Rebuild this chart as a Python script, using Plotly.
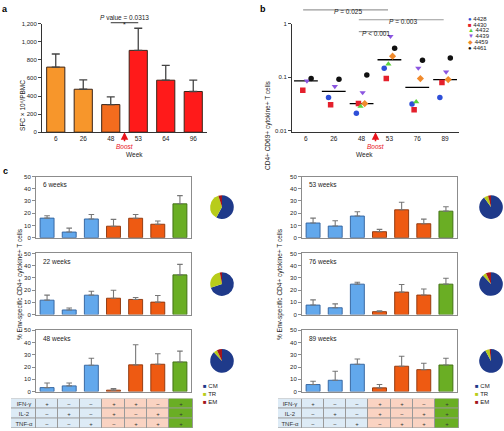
import plotly.graph_objects as go
import numpy as np

W, H = 504, 431
def fx(p): return p / W
def fy(p): return 1 - p / H

FONT = "Liberation Sans, Arial, sans-serif"

# ---------------- Panel a data ----------------
a_weeks = ["6", "26", "48", "53", "64", "96"]
a_sfc = [720, 475, 305, 905, 575, 450]
a_err = [145, 103, 85, 245, 165, 125]
a_colors = ["#F7962B", "#F7962B", "#F36C1E", "#FF1A1A", "#FF1A1A", "#FF1A1A"]

# ---------------- Panel b data ----------------
b_weeks = ["6", "26", "48", "53", "76", "89"]
subjects = ["4428", "4430", "4432", "4439", "4459", "4461"]
s_4428 = [None, 0.0416, 0.021, 0.146, 0.0313, 0.0416]
s_4430 = [0.057, 0.0304, 0.032, 0.094, 0.0245, 0.079]
s_4432 = [None, None, 0.0283, 0.176, 0.0346, None]
s_4439 = [0.085, 0.067, 0.0515, 0.58, 0.148, 0.125]
s_4459 = [None, None, 0.032, 0.247, 0.094, 0.090]
s_4461 = [0.094, 0.091, 0.11, 0.348, 0.208, 0.227]
subject_values = [s_4428, s_4430, s_4432, s_4439, s_4459, s_4461]
subject_colors = ["#2E4FD8", "#E4202C", "#5BD23A", "#8B55E0", "#F08A2C", "#111111"]
subject_symbols = ["circle", "square", "triangle-up", "triangle-down", "diamond", "circle"]
subject_glyphs = ["●", "■", "▲", "▼", "◆", "●"]

# ---------------- Panel c data ----------------
c_categories = ["IFN-γ+", "IL-2+", "TNF-α+", "IFN-γ+IL-2+", "IFN-γ+TNF-α+",
                "IL-2+TNF-α+", "IFN-γ+IL-2+TNF-α+"]
c_bar_colors = ["#62A8EC"] * 3 + ["#EE5A12"] * 3 + ["#6AAE24"]
c_bar_lines = ["#2F5F9A"] * 3 + ["#8A3208"] * 3 + ["#3B6A10"]
c_timepoints = ["6 weeks", "22 weeks", "48 weeks", "53 weeks", "76 weeks", "89 weeks"]
c_6w = [16, 4.6, 15.3, 9.4, 15.9, 11, 27.7]
c_6w_err = [2, 3.2, 3.7, 5.6, 3.1, 2.7, 6.7]
c_22w = [11.8, 3.8, 15.9, 13.4, 12.4, 10.2, 32.5]
c_22w_err = [4.1, 1.6, 3.2, 6.5, 1.6, 5.4, 8.6]
c_48w = [3.2, 4.6, 21.5, 1.1, 21.8, 22.3, 24.2]
c_48w_err = [3.8, 2.4, 5.7, 1.3, 16.4, 8.6, 8.8]
c_53w = [12, 9.5, 17.7, 4.9, 22.8, 11.4, 21.7]
c_53w_err = [4, 4.4, 3.5, 1.9, 6.2, 3.8, 3.6]
c_76w = [7.8, 5.6, 24.9, 2.4, 18.4, 16, 24.9]
c_76w_err = [4.2, 3.2, 1.6, 0.8, 6.2, 4.9, 4.8]
c_89w = [5.7, 9.2, 22.3, 3, 20.7, 17.9, 21.7]
c_89w_err = [2.7, 7.4, 4.3, 2.7, 8.1, 5.2, 5.5]
c_values = [c_6w, c_22w, c_48w, c_53w, c_76w, c_89w]
c_errors = [c_6w_err, c_22w_err, c_48w_err, c_53w_err, c_76w_err, c_89w_err]

pie_labels = ["CM", "TR", "EM"]
pie_colors = ["#1F3A8A", "#B8CC1A", "#A3151B"]
pie_6w = [58, 37, 5]
pie_22w = [70, 27, 3]
pie_48w = [88, 5, 7]
pie_53w = [90, 6, 4]
pie_76w = [88, 5, 7]
pie_89w = [92, 6, 2]
pie_values = [pie_6w, pie_22w, pie_48w, pie_53w, pie_76w, pie_89w]

table_rows = ["IFN-γ", "IL-2", "TNF-α"]
table_ifn = ["+", "−", "−", "+", "+", "−", "+"]
table_il2 = ["−", "+", "−", "+", "−", "+", "+"]
table_tnf = ["−", "−", "+", "−", "+", "+", "+"]
table_signs = [table_ifn, table_il2, table_tnf]
table_group = [0, 0, 0, 1, 1, 1, 2]

fig = go.Figure()

# ---------------- Panel a ----------------
fig.add_trace(go.Bar(
    x=a_weeks, y=a_sfc, width=0.66,
    marker=dict(color=a_colors, line=dict(color="#3a2418", width=1)),
    error_y=dict(type="data", array=a_err, arrayminus=[0] * len(a_err), symmetric=False,
                 color="#444", thickness=1.3, width=4),
    xaxis="x", yaxis="y", showlegend=False, hoverinfo="skip"))

# ---------------- Panel b ----------------
medians = [float(np.median([v[i] for v in subject_values if v[i] is not None]))
           for i in range(len(b_weeks))]
fig.add_trace(go.Scatter(
    x=b_weeks, y=medians, mode="markers",
    marker=dict(symbol="line-ew", size=17, color="black", line=dict(color="black", width=1.3)),
    xaxis="x2", yaxis="y2", showlegend=False, hoverinfo="skip",
    alignmentgroup="med", offsetgroup="med"))
for name, vals, col, sym in zip(subjects, subject_values, subject_colors, subject_symbols):
    fig.add_trace(go.Scatter(
        x=b_weeks, y=vals, mode="markers", name=name,
        marker=dict(symbol=sym, size=5.5, color=col, line=dict(width=0)),
        xaxis="x2", yaxis="y2", showlegend=False, hoverinfo="skip",
        alignmentgroup="subj", offsetgroup=name))

# ---------------- Panel c ----------------
box_x = [(36, 191), (302, 457)]
box_y = [(176, 238), (254, 316), (332, 394)]
pie_cx = [222, 491]
table_x = [(11, 193), (278, 459)]
table_y = (401, 431)

for k, (tp, vals, errs, pv) in enumerate(zip(c_timepoints, c_values, c_errors, pie_values)):
    col, row = k // 3, k % 3
    n = 3 + k
    xa, ya = f"x{n}", f"y{n}"
    fig.add_trace(go.Bar(
        x=c_categories, y=vals, width=0.63,
        marker=dict(color=c_bar_colors, line=dict(color=c_bar_lines, width=0.9)),
        error_y=dict(type="data", array=errs, arrayminus=[0] * len(errs), symmetric=False,
                     color="#777", thickness=1.1, width=2.8),
        xaxis=xa, yaxis=ya, showlegend=False, hoverinfo="skip"))
    x0, x1 = box_x[col]
    y0, y1 = box_y[row]
    fig.layout[f"xaxis{n}"] = dict(
        domain=[fx(x0), fx(x1)], anchor=ya, type="category", range=[-0.5, 6.5],
        showline=True, mirror=True, linecolor="#8c8c8c", linewidth=1,
        showticklabels=False, ticks="", showgrid=False, zeroline=False, fixedrange=True)
    fig.layout[f"yaxis{n}"] = dict(
        domain=[fy(y1), fy(y0)], anchor=xa, range=[0, 50], dtick=10,
        showline=True, mirror=True, linecolor="#8c8c8c", linewidth=1,
        ticks="outside", ticklen=3, tickcolor="#8c8c8c", tickfont=dict(size=6),
        showgrid=False, zeroline=False, fixedrange=True)
    fig.add_annotation(x=fx(x0 + 5), y=fy(y0 + 8), xref="paper", yref="paper",
                       text=tp, showarrow=False, xanchor="left", yanchor="middle",
                       font=dict(size=6.5))
    cy = (y0 + y1) / 2
    r = 12
    fig.add_trace(go.Pie(
        values=pv, labels=pie_labels, sort=False, direction="clockwise", rotation=0,
        marker=dict(colors=pie_colors, line=dict(width=0)), textinfo="none",
        hoverinfo="skip", showlegend=False,
        domain=dict(x=[fx(pie_cx[col] - r), fx(min(pie_cx[col] + r, W))],
                    y=[fy(cy + r), fy(cy - r)])))

# tables
for t in range(2):
    n = 9 + t
    xa, ya = f"x{n}", f"y{n}"
    bx0, bx1 = box_x[t]
    tx0, tx1 = table_x[t]
    scale = (bx1 - bx0) / len(c_categories)
    left = -0.5 - (bx0 - tx0) / scale
    right = len(c_categories) - 0.5 + (tx1 - bx1) / scale
    edges = [left] + [i - 0.5 for i in range(len(c_categories))] + [right]
    z = [[0] + table_group for _ in table_rows]
    text = [[lab] + signs for lab, signs in zip(table_rows, table_signs)]
    fig.add_trace(go.Heatmap(
        x=edges, y=list(range(len(table_rows))), z=z, text=text,
        texttemplate="%{text}", textfont=dict(size=6, color="#333"),
        colorscale=[[0, "#DDEBF6"], [0.5, "#FAD3C2"], [1, "#6AAE24"]],
        zmin=0, zmax=2, showscale=False, xgap=1, ygap=1, hoverinfo="skip",
        xaxis=xa, yaxis=ya))
    fig.layout[f"xaxis{n}"] = dict(domain=[fx(tx0), fx(tx1)], anchor=ya, range=[left, right],
                                   visible=False, fixedrange=True)
    fig.layout[f"yaxis{n}"] = dict(domain=[fy(table_y[1]), fy(table_y[0])], anchor=xa,
                                   range=[len(table_rows) - 0.5, -0.5], visible=False,
                                   fixedrange=True)
    fig.add_shape(type="rect", xref="paper", yref="paper", x0=fx(tx0), x1=fx(tx1),
                  y0=fy(table_y[1]), y1=fy(table_y[0]), fillcolor="#9a9a9a",
                  line=dict(width=0), layer="below")

# ---------------- layout ----------------
fig.update_layout(
    width=W, height=H, margin=dict(l=0, r=0, t=0, b=0),
    paper_bgcolor="white", plot_bgcolor="rgba(0,0,0,0)",
    font=dict(family=FONT, size=6.5, color="#222"),
    showlegend=False, scattermode="group", scattergap=0.55, bargap=0.3,
    xaxis=dict(domain=[fx(42), fx(207)], anchor="y", type="category", range=[-0.5, 5.5],
               showline=True, linecolor="#333", linewidth=1, ticks="",
               showgrid=False, zeroline=False, fixedrange=True),
    yaxis=dict(domain=[fy(131), fy(21)], anchor="x", range=[0, 1200], dtick=200,
               tickformat=",", showline=True, linecolor="#333", linewidth=1,
               ticks="outside", ticklen=3, tickfont=dict(size=6),
               showgrid=False, zeroline=False, fixedrange=True),
    xaxis2=dict(domain=[fx(292), fx(459)], anchor="y2", type="category", range=[-0.5, 5.5],
                showline=True, linecolor="#333", linewidth=1, ticks="",
                showgrid=False, zeroline=False, fixedrange=True),
    yaxis2=dict(domain=[fy(131), fy(21)], anchor="x2", type="log", range=[-2.03, 0],
                tickvals=[0.01, 0.1, 1], ticktext=["0.01", "0.1", "1"], tickfont=dict(size=6),
                showline=True, linecolor="#333", linewidth=1, ticks="outside", ticklen=3,
                showgrid=False, zeroline=False, fixedrange=True),
)

# panel labels
for lab, x, y in [("a", 5, 6), ("b", 263, 6), ("c", 5, 170)]:
    fig.add_annotation(x=fx(x), y=fy(y), xref="paper", yref="paper", text=f"<b>{lab}</b>",
                       showarrow=False, xanchor="center", yanchor="middle",
                       font=dict(size=9, color="black"))

# axis titles
fig.add_annotation(x=fx(17), y=fy(76), xref="paper", yref="paper",
                   text="SFC × 10⁶/PBMC", textangle=-90, showarrow=False, font=dict(size=6.5))
fig.add_annotation(x=fx(268), y=fy(76), xref="paper", yref="paper",
                   text="CD4+ CD69+ cytokine+ T cells", textangle=-90, showarrow=False,
                   font=dict(size=6.5))
for xx in (14, 280):
    fig.add_annotation(x=fx(xx), y=fy(285), xref="paper", yref="paper",
                       text="% Env-specific CD4+ cytokine+ T cells", textangle=-90,
                       showarrow=False, font=dict(size=6.5))
for xr, ybot, xc in [("x", 131, 124), ("x2", 131, 375)]:
    fig.add_annotation(x=2.5, xref=xr, y=fy(ybot), yref="paper", text="<i>Boost</i>",
                       showarrow=True, arrowhead=2, arrowsize=1, arrowwidth=1.5,
                       arrowcolor="#E8141C", ax=0, ay=14, standoff=0,
                       font=dict(size=6.5, color="#E8141C"))
    fig.add_annotation(x=fx(xc), y=fy(154), xref="paper", yref="paper", text="Week",
                       showarrow=False, font=dict(size=6.5))

# significance panel a
fig.add_shape(type="line", xref="x", yref="paper", x0=2, x1=3, y0=fy(20), y1=fy(20),
              line=dict(color="#333", width=1))
fig.add_annotation(x=2.5, xref="x", y=fy(16), yref="paper", text="*", showarrow=False,
                   font=dict(size=7))
fig.add_annotation(x=2.5, xref="x", y=fy(9), yref="paper", text="<i>P</i> value = 0.0313",
                   showarrow=False, font=dict(size=6.5))

# significance panel b
comparisons = [(0, 3, "<i>P</i> = 0.025", 7), (2, 5, "<i>P</i> = 0.003", 17),
               (2, 3, "<i>P</i> < 0.001", 29)]
for i0, i1, txt, yy in comparisons:
    fig.add_shape(type="line", xref="x2", yref="paper", x0=i0 - 0.1, x1=i1 - 0.05,
                  y0=fy(yy), y1=fy(yy), line=dict(color="#9a9a9a", width=1.2))
    fig.add_annotation(x=(i0 + i1) / 2, xref="x2", y=fy(yy - 4), yref="paper", text=txt,
                       showarrow=False, font=dict(size=6.5))

# legend panel b
for i, (name, col, g) in enumerate(zip(subjects, subject_colors, subject_glyphs)):
    fig.add_annotation(x=fx(466), y=fy(16 + i * 5.9), xref="paper", yref="paper",
                       text=f"<span style='color:{col}'>{g}</span> {name}",
                       showarrow=False, xanchor="left", yanchor="middle", font=dict(size=6))

# pie legends
for lx in (201, 473):
    for i, (lab, col) in enumerate(zip(pie_labels, pie_colors)):
        fig.add_annotation(x=fx(lx), y=fy(388 + i * 8.5), xref="paper", yref="paper",
                           text=f"<span style='color:{col}'>■</span> {lab}",
                           showarrow=False, xanchor="left", yanchor="middle",
                           font=dict(size=6))

fig.write_html("out.html", config={"displayModeBar": False},
               post_script="document.body.style.margin='0';")
